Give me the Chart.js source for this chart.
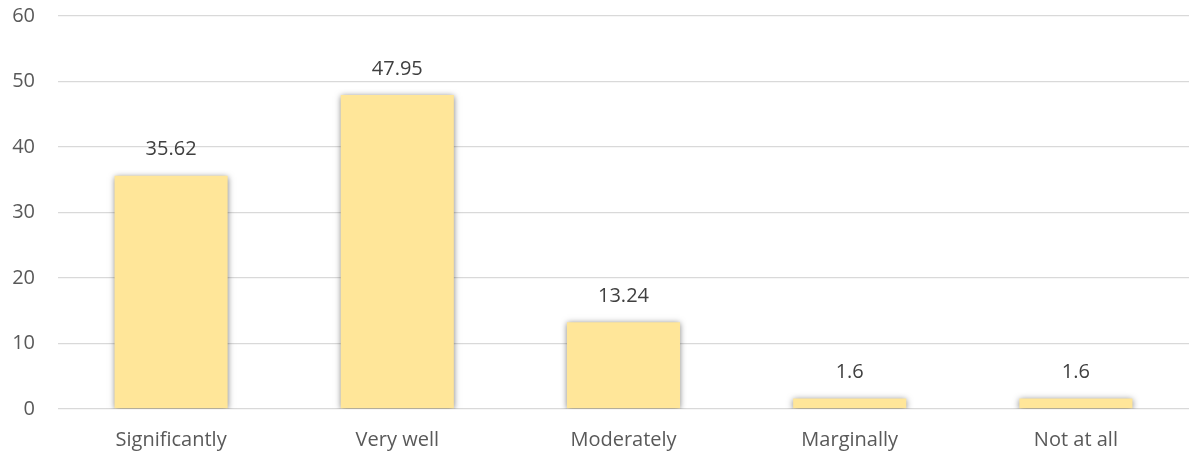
<!DOCTYPE html>
<html>
<head>
<meta charset="utf-8">
<script src="https://cdn.jsdelivr.net/npm/chart.js@4"></script>
<style>
html,body{margin:0;padding:0;background:#fff;}
#wrap{width:1192px;height:467px;position:relative;}
</style>
</head>
<body>
<div id="wrap"><canvas id="c"></canvas></div>
<script>
const categories = ["Significantly", "Very well", "Moderately", "Marginally", "Not at all"];
const values = [35.62, 47.95, 13.24, 1.6, 1.6];
const yTicks = [0, 10, 20, 30, 40, 50, 60];

const FONT = "'Open Sans', 'Liberation Sans', sans-serif";

const shadowPlugin = {
  id: 'barShadow',
  beforeDatasetsDraw(chart) {
    const ctx = chart.ctx;
    ctx.save();
    ctx.shadowColor = 'rgba(0,0,0,0.5)';
    ctx.shadowBlur = 6;
    ctx.shadowOffsetX = 0;
    ctx.shadowOffsetY = 1;
  },
  afterDatasetsDraw(chart) {
    chart.ctx.restore();
  }
};

const labelPlugin = {
  id: 'valueLabels',
  afterDatasetsDraw(chart) {
    const ctx = chart.ctx;
    const meta = chart.getDatasetMeta(0);
    ctx.save();
    ctx.font = "20px " + FONT;
    ctx.fillStyle = '#404040';
    ctx.textAlign = 'center';
    ctx.textBaseline = 'middle';
    meta.data.forEach((bar, i) => {
      ctx.fillText(String(values[i]), bar.x, bar.y - 26);
    });
    ctx.restore();
  }
};

new Chart(document.getElementById('c'), {
  type: 'bar',
  data: {
    labels: categories,
    datasets: [{
      data: values,
      backgroundColor: '#FFE699',
      borderWidth: 0,
      categoryPercentage: 1.0,
      barPercentage: 0.5
    }]
  },
  options: {
    responsive: true,
    maintainAspectRatio: false,
    animation: false,
    devicePixelRatio: 1,
    layout: { padding: { left: 0, right: 3, top: 16, bottom: 0 } },
    plugins: { legend: { display: false }, tooltip: { enabled: false } },
    scales: {
      x: {
        grid: { display: false, drawTicks: false },
        border: { display: false },
        ticks: { color: '#595959', font: { family: FONT, size: 20 }, padding: 19, maxRotation: 0 },
        afterFit(scale) { scale.height = 58; scale.paddingLeft = 0; scale.paddingRight = 0; }
      },
      y: {
        min: 0, max: 60,
        afterBuildTicks(scale) { scale.ticks = yTicks.map(v => ({ value: v })); },
        grid: { color: '#d9d9d9', lineWidth: 1.3, drawTicks: false },
        border: { display: false },
        ticks: { color: '#595959', font: { family: FONT, size: 20 }, padding: 23 },
        afterFit(scale) { scale.width = 58; scale.paddingTop = 0; scale.paddingBottom = 0; }
      }
    }
  },
  plugins: [shadowPlugin, labelPlugin]
});
</script>
</body>
</html>
